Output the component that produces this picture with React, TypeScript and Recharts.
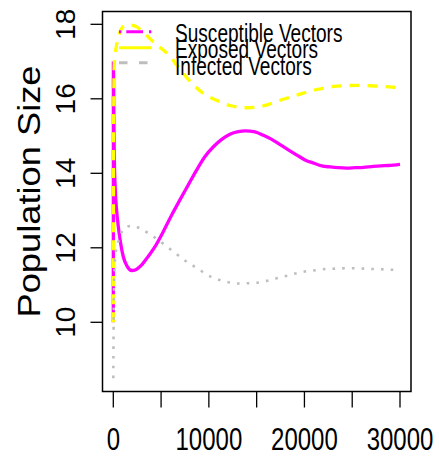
import React from 'react';
import { ComposedChart, Line, XAxis, YAxis, ReferenceArea, Legend } from 'recharts';

// ---- data ----
const seriesNames = ['Susceptible Vectors', 'Exposed Vectors', 'Infected Vectors'];

const susT = [0, 10, 30, 60, 105, 200, 350, 523, 750, 1046, 1450, 1925, 2400, 2972, 3600, 4364, 5200, 6111, 7000, 7849, 8700, 9596, 10500, 11344, 12200, 13081, 13782, 14829, 15700, 16576, 17450, 18313, 19200, 20060, 21000, 21808, 22700, 23545, 24400, 25293, 26200, 27041, 28000, 28778, 30000];
const susV = [10, 17, 16.4, 15.5, 14.45, 13.6, 13.0, 12.57, 12.15, 11.76, 11.5, 11.39, 11.42, 11.54, 11.75, 12.03, 12.42, 12.88, 13.3, 13.69, 14.08, 14.45, 14.72, 14.91, 15.05, 15.12, 15.14, 15.11, 15.02, 14.91, 14.77, 14.63, 14.49, 14.36, 14.27, 14.2, 14.17, 14.15, 14.14, 14.15, 14.16, 14.18, 14.2, 14.21, 14.24];

const expT = [0, 20, 50, 100, 200, 350, 500, 700, 1000, 1400, 1925, 2450, 3300, 4100, 4900, 5900, 6800, 8000, 9400, 10800, 12200, 13960, 15700, 17450, 19200, 21300, 23400, 25500, 27600, 30000];
const expV = [10, 13.5, 16, 16.9, 17.2, 17.45, 17.62, 17.8, 17.93, 17.98, 17.98, 17.93, 17.75, 17.55, 17.38, 17.15, 16.85, 16.48, 16.15, 15.96, 15.82, 15.76, 15.81, 15.96, 16.1, 16.25, 16.34, 16.36, 16.34, 16.3];

const infT = [0, 30, 70, 120, 178, 350, 523, 942, 1400, 1925, 2899, 3840, 4709, 5620, 6530, 7430, 8340, 9250, 10224, 11197, 12180, 13154, 14200, 15216, 16220, 17204, 18209, 19224, 20197, 21212, 22227, 23232, 24247, 25262, 26266, 27281, 28296, 29343, 30000];
const infV = [8.5, 9.8, 10.8, 11.4, 11.7, 12.0, 12.16, 12.46, 12.56, 12.59, 12.51, 12.36, 12.21, 12.03, 11.85, 11.67, 11.52, 11.37, 11.22, 11.13, 11.07, 11.04, 11.05, 11.07, 11.12, 11.19, 11.25, 11.32, 11.37, 11.4, 11.43, 11.44, 11.45, 11.45, 11.44, 11.43, 11.42, 11.41, 11.41];

const xTicks = [0, 5000, 10000, 15000, 20000, 25000, 30000];
const xTickLabels = ['0', '', '10000', '', '20000', '', '30000'];
const yTicks = [10, 12, 14, 16, 18];
const yTickLabels = ['10', '12', '14', '16', '18'];
const yTitle = 'Population Size';

const xDomain = [-1130, 31151];
const yDomain = [8.142, 18.344];

const toRows = (ts: number[], vs: number[]) => ts.map((t, i) => ({ t, v: vs[i] }));
const susData = toRows(susT, susV);
const expData = toRows(expT, expV);
const infData = toRows(infT, infV);

// ---- styles ----
const FONT = '"Liberation Sans", Arial, sans-serif';
const MAGENTA = '#FF00FF';
const YELLOW = '#FFFF00';
const GRAY = '#BEBEBE';

const legendStyles = [
  { color: MAGENTA, dash: '2.3 5 16.7 6', y: 31.7, textY: 41.5 },
  { color: YELLOW, dash: undefined, y: 47.7, textY: 58 },
  { color: GRAY, dash: '8.5 11.5', y: 62.7, textY: 75 },
];

const XTick = (props: any) => {
  const { x, y, payload } = props;
  const idx = xTicks.indexOf(payload.value);
  const label = idx >= 0 ? xTickLabels[idx] : '';
  if (!label) return <g />;
  return (
    <g transform={`translate(${x},${y + 40.5}) scale(0.75,1)`}>
      <text x={0} y={0} textAnchor="middle" fontFamily={FONT} fontSize={32} fill="#000">
        {label}
      </text>
    </g>
  );
};

const YTick = (props: any) => {
  const { y, payload } = props;
  const idx = yTicks.indexOf(payload.value);
  const label = idx >= 0 ? yTickLabels[idx] : String(payload.value);
  const bx = 75;
  return (
    <text
      x={bx}
      y={y}
      transform={`rotate(-90, ${bx}, ${y})`}
      textAnchor="middle"
      fontFamily={FONT}
      fontSize={28}
      fill="#000"
    >
      {label}
    </text>
  );
};

const YTitle = (props: any) => {
  const { viewBox } = props;
  const cy = viewBox ? viewBox.y + viewBox.height / 2 - 10 : 191;
  const bx = 40;
  return (
    <text
      x={bx}
      y={cy}
      transform={`rotate(-90, ${bx}, ${cy})`}
      textAnchor="middle"
      fontFamily={FONT}
      fontSize={30.5}
      textLength={252}
      lengthAdjust="spacingAndGlyphs"
      fill="#000"
    >
      {yTitle}
    </text>
  );
};

const LegendContent = () => (
  <svg width={439} height={90} style={{ display: 'block' }}>
    {seriesNames.map((name, i) => {
      const s = legendStyles[i];
      return (
        <g key={name}>
          <line
            x1={119}
            x2={151.7}
            y1={s.y}
            y2={s.y}
            stroke={s.color}
            strokeWidth={3}
            strokeDasharray={s.dash}
          />
          <g transform={`translate(175,${s.textY}) scale(0.72,1)`}>
            <text x={0} y={0} fontFamily={FONT} fontSize={26.5} fill="#000">
              {name}
            </text>
          </g>
        </g>
      );
    })}
  </svg>
);

export default function App() {
  return (
    <div style={{ position: 'absolute', left: 0, top: 0, width: 439, height: 457, background: '#fff' }}>
      <ComposedChart width={439} height={457} margin={{ top: 11.5, right: 28, bottom: 5.5, left: 0 }}>
        <XAxis
          type="number"
          dataKey="t"
          domain={xDomain}
          ticks={xTicks}
          allowDataOverflow
          axisLine={false}
          tickLine={{ stroke: '#000', strokeWidth: 1.3 }}
          tickSize={16}
          tick={<XTick />}
          height={60}
          interval={0}
        />
        <YAxis
          type="number"
          domain={yDomain}
          ticks={yTicks}
          allowDataOverflow
          axisLine={false}
          tickLine={{ stroke: '#000', strokeWidth: 1.3 }}
          tickSize={12}
          tick={<YTick />}
          width={102.5}
          interval={0}
          label={{ content: <YTitle /> }}
        />
        <ReferenceArea
          x1={xDomain[0]}
          x2={xDomain[1]}
          y1={yDomain[0]}
          y2={yDomain[1]}
          fill="none"
          stroke="#000"
          strokeWidth={1.5}
          ifOverflow="visible"
        />
        <Line
          data={susData}
          dataKey="v"
          name={seriesNames[0]}
          type="monotone"
          stroke={MAGENTA}
          strokeWidth={3.3}
          dot={false}
          activeDot={false}
          isAnimationActive={false}
        />
        <Line
          data={expData}
          dataKey="v"
          name={seriesNames[1]}
          type="monotone"
          stroke={YELLOW}
          strokeWidth={3.3}
          strokeDasharray="10 8"
          dot={false}
          activeDot={false}
          isAnimationActive={false}
        />
        <Line
          data={infData}
          dataKey="v"
          name={seriesNames[2]}
          type="monotone"
          stroke={GRAY}
          strokeWidth={2.6}
          strokeDasharray="2.6 7.1"
          dot={false}
          activeDot={false}
          isAnimationActive={false}
        />
        <Legend
          layout="horizontal"
          verticalAlign="middle"
          align="center"
          content={<LegendContent />}
          wrapperStyle={{ position: 'absolute', left: 0, top: 0, width: 439, height: 90, pointerEvents: 'none' }}
        />
      </ComposedChart>
    </div>
  );
}
